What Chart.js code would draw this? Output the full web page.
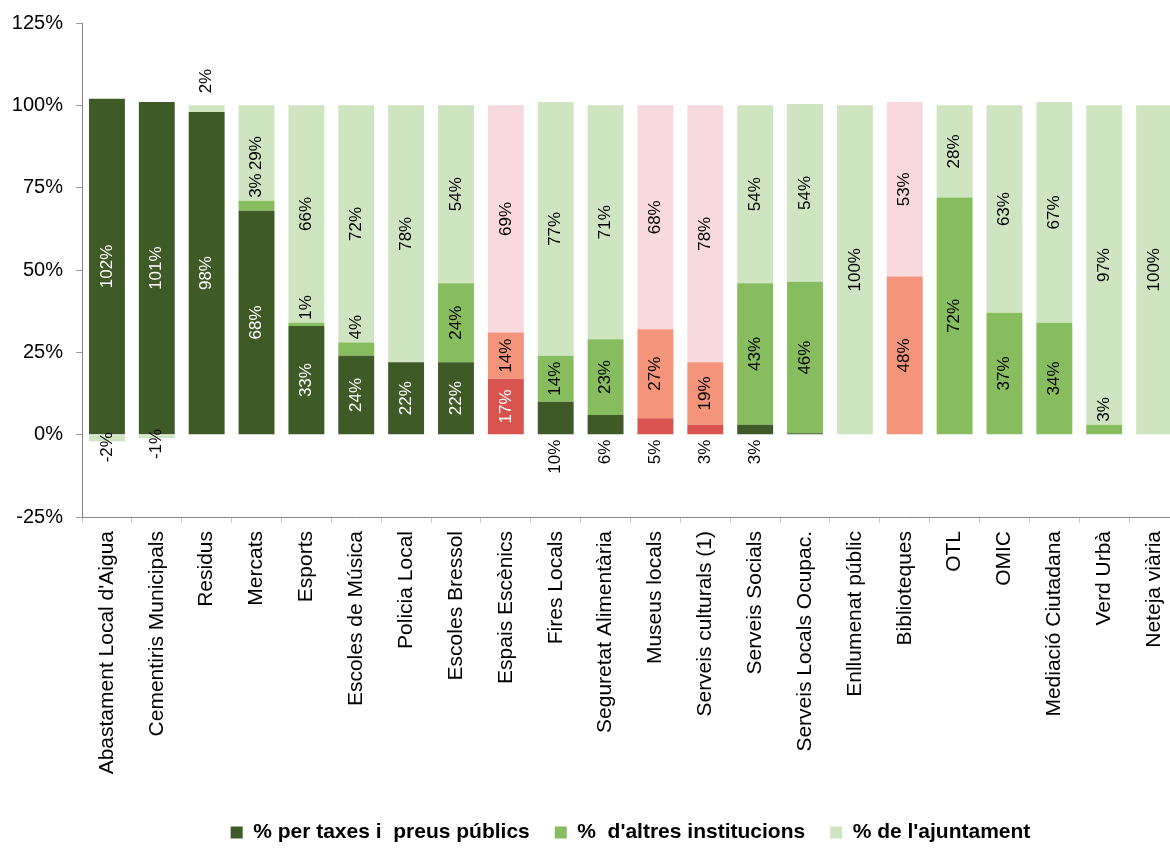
<!DOCTYPE html>
<html>
<head>
<meta charset="utf-8">
<script src="https://cdn.jsdelivr.net/npm/chart.js@4/dist/chart.umd.min.js"></script>
<style>
  html, body { margin: 0; padding: 0; background: #fff; overflow: hidden; }
  #wrap { width: 1170px; height: 848px; overflow: hidden; }
</style>
</head>
<body>
<div id="wrap"><canvas id="chart" width="1180" height="848"></canvas></div>
<script>
// services and how each one is financed (% of cost)
var categories = ["Abastament Local d'Aigua", 'Cementiris Municipals', 'Residus', 'Mercats', 'Esports',
  'Escoles de Música', 'Policia Local', 'Escoles Bressol', 'Espais Escènics', 'Fires Locals',
  'Seguretat Alimentària', 'Museus locals', 'Serveis culturals (1)', 'Serveis Socials',
  'Serveis Locals Ocupac.', 'Enllumenat públic', 'Biblioteques', 'OTL', 'OMIC',
  'Mediació Ciutadana', 'Verd Urbà', 'Neteja viària'];

var taxes      = [102, 101, 98, 68, 33, 24, 22, 22, 17, 10, 6, 5, 3, 3, 0.4, 0, 0, 0, 0, 0, 0, 0];
var altres     = [0, 0, 0, 3, 1, 4, 0, 24, 14, 14, 23, 27, 19, 43, 46, 0, 48, 72, 37, 34, 3, 0];
var ajuntament = [-2, -1, 2, 29, 66, 72, 78, 54, 69, 77, 71, 68, 78, 54, 54, 100, 53, 28, 63, 67, 97, 100];

// cultural services get the red palette
var culturals = ['Espais Escènics', 'Museus locals', 'Serveis culturals (1)', 'Biblioteques'];

var seriesNames = ['% per taxes i  preus públics', '%  d\'altres institucions', '% de l\'ajuntament'];
var greens = ['#3d5a27', '#87bd5e', '#cfe4c0'];
var reds   = ['#d9534f', '#f4947a', '#f8d9de'];

var yTicks = [-25, 0, 25, 50, 75, 100, 125];

var FONT = '"Liberation Sans", Arial, sans-serif';
Chart.defaults.font.family = FONT;

function colorFor(n) {
  return function (c) {
    if (c.dataIndex !== undefined && culturals.indexOf(categories[c.dataIndex]) >= 0) return reds[n];
    return greens[n];
  };
}

// percentage labels written vertically on/around each segment
var valueLabels = {
  id: 'valueLabels',
  afterDatasetsDraw: function (chart) {
    var ctx = chart.ctx;
    var zero = chart.scales.y.getPixelForValue(0);
    ctx.save();
    ctx.font = '17px ' + FONT;
    ctx.textBaseline = 'middle';
    chart.data.datasets.forEach(function (ds, d) {
      chart.getDatasetMeta(d).data.forEach(function (bar, i) {
        var v = ds.data[i];
        var r = Math.round(v);
        if (r === 0) return;
        var txt = r + '%';
        var top = Math.min(bar.y, bar.base), bottom = Math.max(bar.y, bar.base);
        var w = ctx.measureText(txt).width;
        var y, align = 'center', color = '#000';
        if (bottom - top > w + 4) {
          y = (top + bottom) / 2;
          if (d === 0) color = '#fff';
        } else if (v < 0) {
          y = bottom + 6;
        } else if (d === 0) {
          y = zero + 5; align = 'right';
        } else if (d === 1) {
          y = top - 3; align = 'left';
        } else {
          y = top - 12; align = 'left';
        }
        ctx.save();
        ctx.translate(bar.x, y);
        ctx.rotate(-Math.PI / 2);
        ctx.textAlign = align;
        ctx.fillStyle = color;
        ctx.fillText(txt, 0, 0);
        ctx.restore();
      });
    });
    ctx.restore();
  }
};

var ctx = document.getElementById('chart').getContext('2d');
var chart = new Chart(ctx, {
  type: 'bar',
  data: {
    labels: categories,
    datasets: [
      { label: seriesNames[0], data: taxes, backgroundColor: colorFor(0), borderWidth: 0 },
      { label: seriesNames[1], data: altres, backgroundColor: colorFor(1), borderWidth: 0 },
      { label: seriesNames[2], data: ajuntament, backgroundColor: colorFor(2), borderWidth: 0 }
    ]
  },
  options: {
    responsive: false,
    animation: false,
    events: [],
    layout: { padding: { top: 23, left: 0, right: 1, bottom: -5 } },
    datasets: { bar: { categoryPercentage: 1, barPercentage: 0.72 } },
    scales: {
      x: {
        stacked: true,
        grid: { drawOnChartArea: false, offset: true, tickLength: 6, color: '#c8c8c8' },
        border: { color: '#888' },
        ticks: { minRotation: 90, maxRotation: 90, autoSkip: false, color: '#000',
                 font: { size: 21 }, padding: 8 },
        afterFit: function (s) { s.height = 280; s.paddingLeft = 0; s.paddingRight = 0; }
      },
      y: {
        stacked: true,
        min: yTicks[0],
        max: yTicks[yTicks.length - 1],
        grid: { drawOnChartArea: false, tickLength: 6, color: '#999' },
        border: { color: '#888' },
        afterBuildTicks: function (s) { s.ticks = yTicks.map(function (v) { return { value: v }; }); },
        ticks: { color: '#000', font: { size: 20 }, padding: 13,
                 callback: function (v) { return v + '%'; } },
        afterFit: function (s) { s.width = 82; s.paddingTop = 0; s.paddingBottom = 0; }
      }
    },
    plugins: {
      legend: {
        position: 'bottom',
        fullSize: false,
        labels: { boxWidth: 12, boxHeight: 12, padding: 25, color: '#000',
                  font: { size: 21, weight: 'bold' } }
      },
      tooltip: { enabled: false }
    }
  },
  plugins: [valueLabels]
});
</script>
</body>
</html>
